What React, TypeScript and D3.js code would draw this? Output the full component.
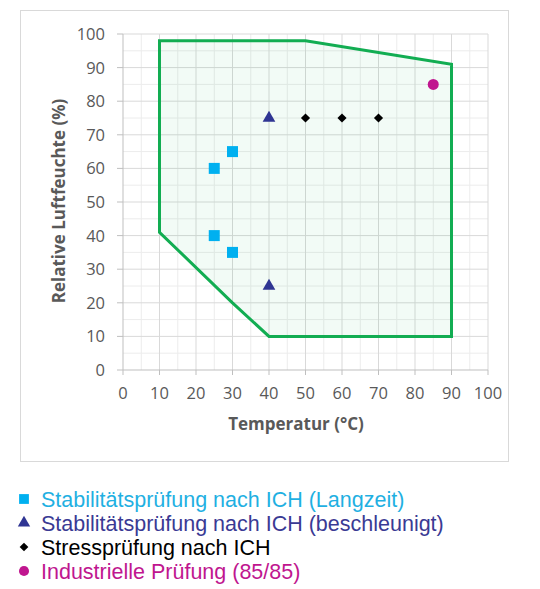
import React from 'react';
import * as d3 from 'd3';

// --- data ---
const zoneTemp = [10, 50, 90, 90, 40, 30, 10];
const zoneHumidity = [98, 98, 91, 10, 10, 20, 41];

const longTermTemp = [25, 30, 25, 30];
const longTermHumidity = [60, 65, 40, 35];

const acceleratedTemp = [40, 40];
const acceleratedHumidity = [75, 25];

const stressTemp = [50, 60, 70];
const stressHumidity = [75, 75, 75];

const industrialTemp = [85];
const industrialHumidity = [85];

const legendLabels = [
  'Stabilitätsprüfung nach ICH (Langzeit)',
  'Stabilitätsprüfung nach ICH (beschleunigt)',
  'Stressprüfung nach ICH',
  'Industrielle Prüfung (85/85)',
];

const xTitle = 'Temperatur (°C)';
const yTitle = 'Relative Luftfeuchte (%)';

const COLORS = {
  square: '#00b0f0',
  triangle: '#2f3593',
  diamond: '#000000',
  circle: '#c0168f',
};
const TEXT_COLORS = ['#1fb0e2', '#3a3a94', '#000000', '#c0168f'];

const W = 540;
const H = 589;
const plot = { left: 123, right: 488, top: 34, bottom: 370 };

const x = d3.scaleLinear().domain([0, 100]).range([plot.left, plot.right]);
const y = d3.scaleLinear().domain([0, 100]).range([plot.bottom, plot.top]);

const majorTicks = d3.range(0, 101, 10);
const minorTicks = d3.range(5, 100, 10);

const sym = (type: d3.SymbolType, size: number) => d3.symbol().type(type).size(size)() ?? '';

const zip = (a: number[], b: number[]) => a.map((v, i) => [v, b[i]] as [number, number]);

export default function App() {
  const zone = zip(zoneTemp, zoneHumidity);
  const zonePath = d3.line<[number, number]>().x(d => x(d[0])).y(d => y(d[1]))(zone) + 'Z';

  const axisFont = "'Open Sans', 'Liberation Sans', sans-serif";
  const legendFont = "'Liberation Sans', Arial, sans-serif";

  // diamonds: squares turned by 45 degrees
  const legendMarkers = [
    { d: sym(d3.symbolSquare, 96), rot: 0 },
    { d: sym(d3.symbolTriangle, 66), rot: 0 },
    { d: sym(d3.symbolSquare, 38), rot: 45 },
    { d: sym(d3.symbolCircle, 80), rot: 0 },
  ];
  const legendColors = [COLORS.square, COLORS.triangle, COLORS.diamond, COLORS.circle];
  const legendRowsY = [499, 523, 547, 571];

  return (
    <svg width={W} height={H} style={{ position: 'absolute', left: 0, top: 0, background: '#fff' }}>
      <rect x={20.5} y={10.5} width={488} height={451} fill="#fff" stroke="#d9d9d9" />

      {/* minor grid */}
      {minorTicks.map(t => (
        <g key={'m' + t}>
          <line x1={x(t)} x2={x(t)} y1={plot.top} y2={plot.bottom} stroke="#ececec" />
          <line x1={plot.left} x2={plot.right} y1={y(t)} y2={y(t)} stroke="#ececec" />
        </g>
      ))}
      {/* major grid */}
      {majorTicks.slice(1).map(t => (
        <g key={'g' + t}>
          <line x1={x(t)} x2={x(t)} y1={plot.top} y2={plot.bottom} stroke="#d9d9d9" />
          <line x1={plot.left} x2={plot.right} y1={y(t)} y2={y(t)} stroke="#d9d9d9" />
        </g>
      ))}

      {/* axes */}
      <line x1={plot.left} x2={plot.left} y1={plot.top} y2={plot.bottom} stroke="#bfbfbf" />
      <line x1={plot.left} x2={plot.right} y1={plot.bottom} y2={plot.bottom} stroke="#bfbfbf" />
      {majorTicks.map(t => (
        <g key={'t' + t}>
          <line x1={plot.left - 6} x2={plot.left} y1={y(t)} y2={y(t)} stroke="#bfbfbf" />
          <line x1={x(t)} x2={x(t)} y1={plot.bottom} y2={plot.bottom + 5} stroke="#bfbfbf" />
          <text x={105} y={y(t)} dy="0.36em" textAnchor="end" fontFamily={axisFont} fontSize={16.5} fill="#595959">{t}</text>
          <text x={x(t)} y={399} textAnchor="middle" fontFamily={axisFont} fontSize={16.5} fill="#595959">{t}</text>
        </g>
      ))}

      {/* zone */}
      <path d={zonePath} fill="#00b050" fillOpacity={0.05} stroke="#12ad52" strokeWidth={3} strokeLinejoin="miter" />

      {/* series */}
      {zip(longTermTemp, longTermHumidity).map((d, i) => (
        <path key={'s' + i} d={sym(d3.symbolSquare, 121)} transform={`translate(${x(d[0])},${y(d[1])})`} fill={COLORS.square} />
      ))}
      {zip(acceleratedTemp, acceleratedHumidity).map((d, i) => (
        <path key={'a' + i} d={sym(d3.symbolTriangle, 70)} transform={`translate(${x(d[0])},${y(d[1])})`} fill={COLORS.triangle} />
      ))}
      {zip(stressTemp, stressHumidity).map((d, i) => (
        <path key={'d' + i} d={sym(d3.symbolSquare, 42)} transform={`translate(${x(d[0])},${y(d[1])}) rotate(45)`} fill={COLORS.diamond} />
      ))}
      {zip(industrialTemp, industrialHumidity).map((d, i) => (
        <circle key={'c' + i} cx={x(d[0])} cy={y(d[1])} r={5.5} fill={COLORS.circle} />
      ))}

      {/* axis titles */}
      <text x={296} y={430} textAnchor="middle" fontFamily={axisFont} fontWeight="bold" fontSize={17} fill="#595959">{xTitle}</text>
      <text transform="translate(65,201) rotate(-90)" textAnchor="middle" fontFamily={axisFont} fontWeight="bold" fontSize={17} fill="#595959">{yTitle}</text>

      {/* legend */}
      {legendLabels.map((label, i) => (
        <g key={'l' + i}>
          <path d={legendMarkers[i].d} transform={`translate(24,${legendRowsY[i]}) rotate(${legendMarkers[i].rot})`} fill={legendColors[i]} />
          <text x={41} y={legendRowsY[i]} dy="0.36em" fontFamily={legendFont} fontSize={21.5} fill={TEXT_COLORS[i]}>{label}</text>
        </g>
      ))}
    </svg>
  );
}
